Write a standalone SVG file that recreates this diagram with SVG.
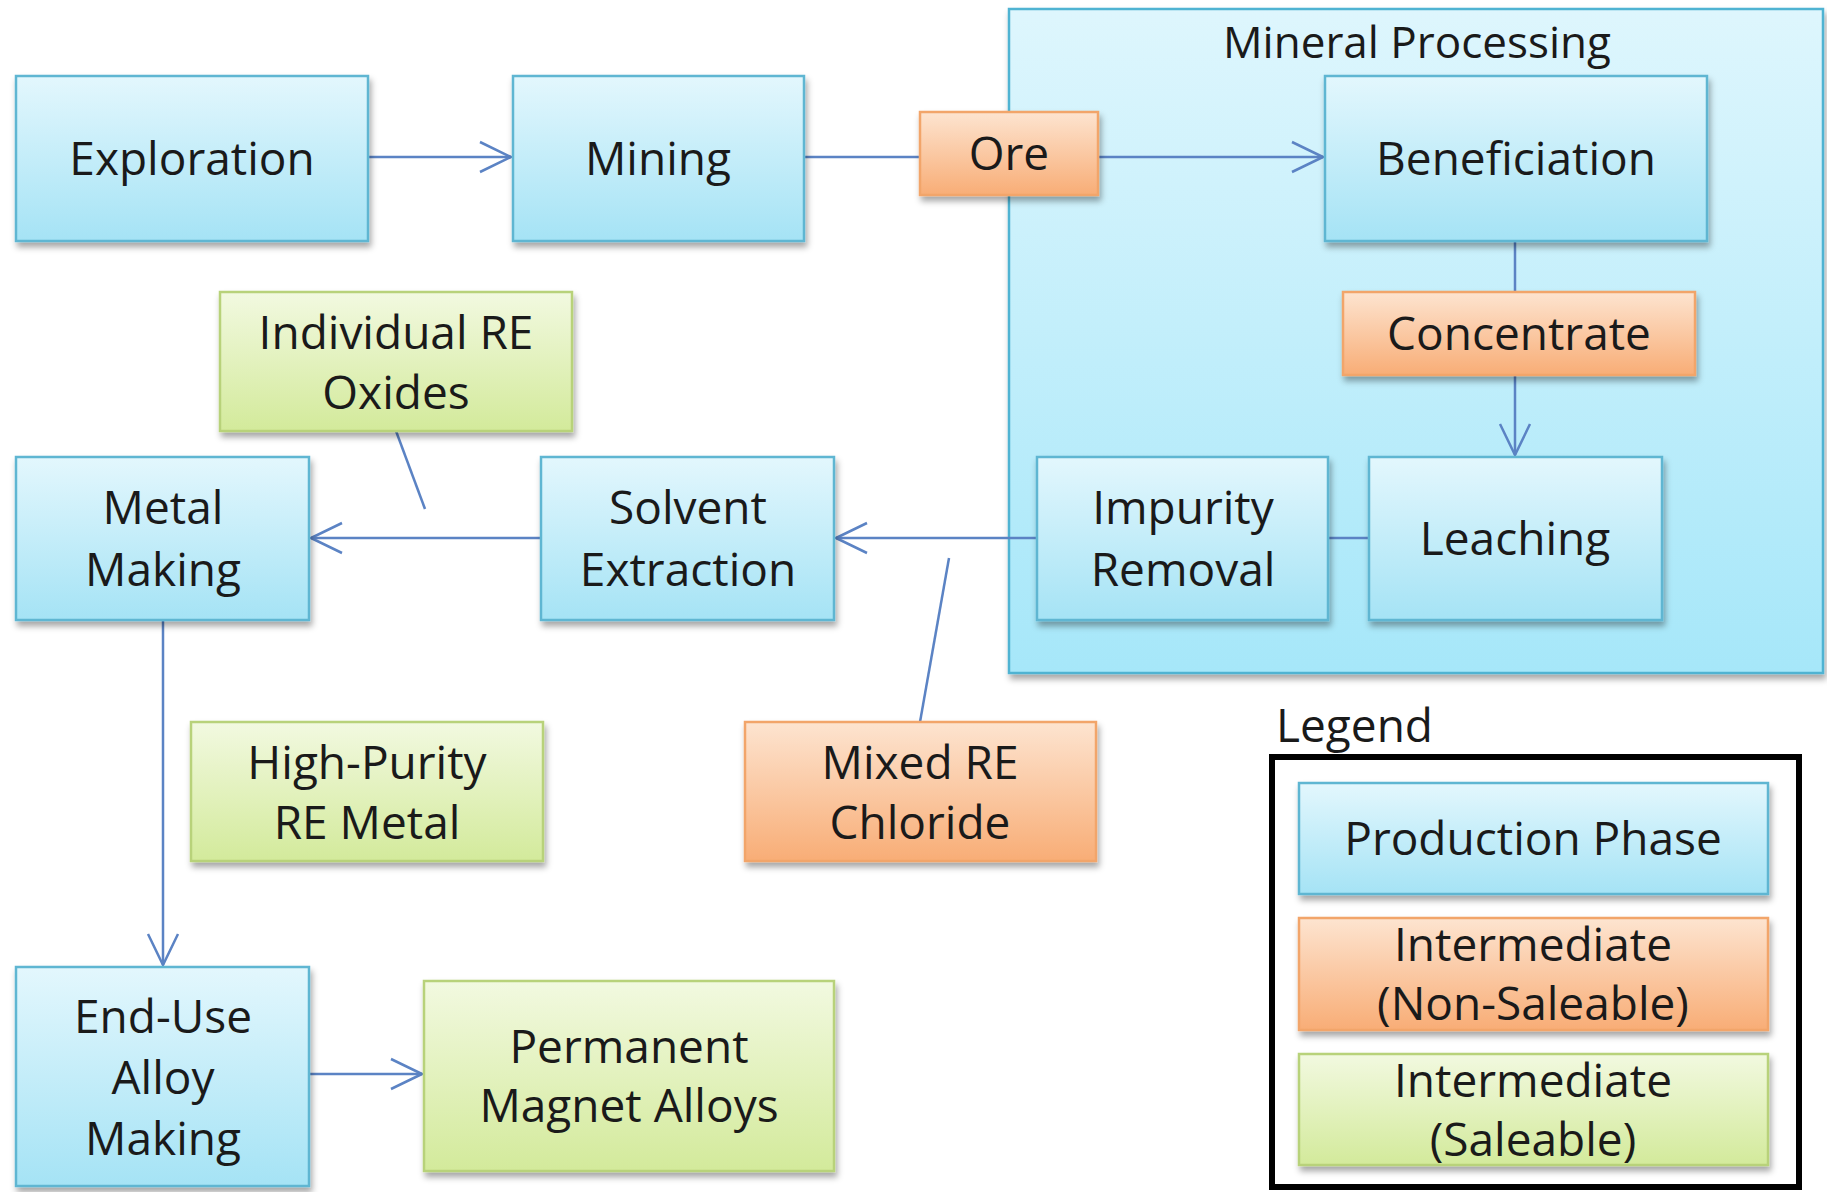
<svg xmlns="http://www.w3.org/2000/svg" width="1827" height="1192" viewBox="0 0 1827 1192">
<defs>
<linearGradient id="gBlue" x1="0" y1="0" x2="0" y2="1">
<stop offset="0" stop-color="#e3f7fd"/><stop offset="1" stop-color="#a5e3f5"/>
</linearGradient>
<linearGradient id="gCont" x1="0" y1="0" x2="0" y2="1">
<stop offset="0" stop-color="#def6fd"/><stop offset="1" stop-color="#a6e7f9"/>
</linearGradient>
<linearGradient id="gOrange" x1="0" y1="0" x2="0" y2="1">
<stop offset="0" stop-color="#fde4d0"/><stop offset="1" stop-color="#f8ad76"/>
</linearGradient>
<linearGradient id="gGreen" x1="0" y1="0" x2="0" y2="1">
<stop offset="0" stop-color="#f2f9e0"/><stop offset="1" stop-color="#d3ea9b"/>
</linearGradient>
<filter id="sh" x="-10%" y="-10%" width="125%" height="130%">
<feDropShadow dx="2" dy="5" stdDeviation="3" flood-color="#000" flood-opacity="0.35"/>
</filter>
<marker id="arr" viewBox="-34 -18 36 36" markerWidth="36" markerHeight="36" refX="0" refY="0" markerUnits="userSpaceOnUse" orient="auto">
<path d="M-31,-15 L0,0 L-31,15" fill="none" stroke="#5b83c4" stroke-width="2.5"/>
</marker>
</defs>
<style>
.t{font-family:"Open Sans","Noto Sans",sans-serif;font-size:46px;fill:#1a1a1a;text-anchor:middle}
.blue{fill:url(#gBlue);stroke:#5fb6d2;stroke-width:2.5;filter:url(#sh)}
.orange{fill:url(#gOrange);stroke:#f2a56a;stroke-width:2.5;filter:url(#sh)}
.green{fill:url(#gGreen);stroke:#b8d27a;stroke-width:2.5;filter:url(#sh)}
.c{fill:none;stroke:#5b83c4;stroke-width:2.5}
</style>
<rect width="1827" height="1192" fill="#ffffff"/>

<g id="mineral-processing">
<rect x="1009" y="9" width="814" height="664" fill="url(#gCont)" stroke="#4fb3d2" stroke-width="2.5" filter="url(#sh)"/>
<text class="t" x="1417" y="58" style="font-size:44px">Mineral Processing</text>
</g>

<g id="connectors">
<path class="c" d="M368,157 L511,157" marker-end="url(#arr)"/>
<path class="c" d="M804,157 L920,157"/>
<path class="c" d="M1098,157 L1323,157" marker-end="url(#arr)"/>
<path class="c" d="M1515,241 L1515,292"/>
<path class="c" d="M1515,375 L1515,455" marker-end="url(#arr)"/>
<path class="c" d="M1369,538 L1328,538"/>
<path class="c" d="M1037,538 L836,538" marker-end="url(#arr)"/>
<path class="c" d="M541,538 L311,538" marker-end="url(#arr)"/>
<path class="c" d="M396,431 L425,509"/>
<path class="c" d="M920,722 L949,558"/>
<path class="c" d="M163,620 L163,965" marker-end="url(#arr)"/>
<path class="c" d="M309,1074 L422,1074" marker-end="url(#arr)"/>
</g>

<g id="exploration">
<rect class="blue" x="16" y="76" width="352" height="165"/>
<text class="t" x="192" y="175">Exploration</text>
</g>
<g id="mining">
<rect class="blue" x="513" y="76" width="291" height="165"/>
<text class="t" x="658" y="175">Mining</text>
</g>
<g id="ore">
<rect class="orange" x="920" y="112" width="178" height="83"/>
<text class="t" x="1009" y="170">Ore</text>
</g>
<g id="beneficiation">
<rect class="blue" x="1325" y="76" width="382" height="165"/>
<text class="t" x="1516" y="175">Beneficiation</text>
</g>
<g id="concentrate">
<rect class="orange" x="1343" y="292" width="352" height="83"/>
<text class="t" x="1519" y="350">Concentrate</text>
</g>
<g id="leaching">
<rect class="blue" x="1369" y="457" width="293" height="163"/>
<text class="t" x="1515" y="555">Leaching</text>
</g>
<g id="impurity-removal">
<rect class="blue" x="1037" y="457" width="291" height="163"/>
<text class="t" x="1183" y="524">Impurity</text>
<text class="t" x="1183" y="586">Removal</text>
</g>
<g id="solvent-extraction">
<rect class="blue" x="541" y="457" width="293" height="163"/>
<text class="t" x="688" y="524">Solvent</text>
<text class="t" x="688" y="586">Extraction</text>
</g>
<g id="metal-making">
<rect class="blue" x="16" y="457" width="293" height="163"/>
<text class="t" x="163" y="524">Metal</text>
<text class="t" x="163" y="586">Making</text>
</g>
<g id="individual-re-oxides">
<rect class="green" x="220" y="292" width="352" height="139"/>
<text class="t" x="396" y="349">Individual RE</text>
<text class="t" x="396" y="409">Oxides</text>
</g>
<g id="high-purity-re-metal">
<rect class="green" x="191" y="722" width="352" height="139"/>
<text class="t" x="367" y="779">High-Purity</text>
<text class="t" x="367" y="839">RE Metal</text>
</g>
<g id="mixed-re-chloride">
<rect class="orange" x="745" y="722" width="351" height="139"/>
<text class="t" x="920" y="779">Mixed RE</text>
<text class="t" x="920" y="839">Chloride</text>
</g>
<g id="end-use-alloy-making">
<rect class="blue" x="16" y="967" width="293" height="219"/>
<text class="t" x="163" y="1033">End-Use</text>
<text class="t" x="163" y="1094">Alloy</text>
<text class="t" x="163" y="1155">Making</text>
</g>
<g id="permanent-magnet-alloys">
<rect class="green" x="424" y="981" width="410" height="190"/>
<text class="t" x="629" y="1063">Permanent</text>
<text class="t" x="629" y="1122">Magnet Alloys</text>
</g>

<g id="legend">
<text class="t" x="1276" y="742" style="text-anchor:start">Legend</text>
<rect x="1272" y="757" width="527" height="430" fill="#ffffff" stroke="#000000" stroke-width="6"/>
<rect class="blue" x="1299" y="783" width="469" height="111"/>
<text class="t" x="1533" y="855">Production Phase</text>
<rect class="orange" x="1299" y="918" width="469" height="112"/>
<text class="t" x="1533" y="961">Intermediate</text>
<text class="t" x="1533" y="1020">(Non-Saleable)</text>
<rect class="green" x="1299" y="1054" width="469" height="111"/>
<text class="t" x="1533" y="1097">Intermediate</text>
<text class="t" x="1533" y="1156">(Saleable)</text>
</g>
</svg>
